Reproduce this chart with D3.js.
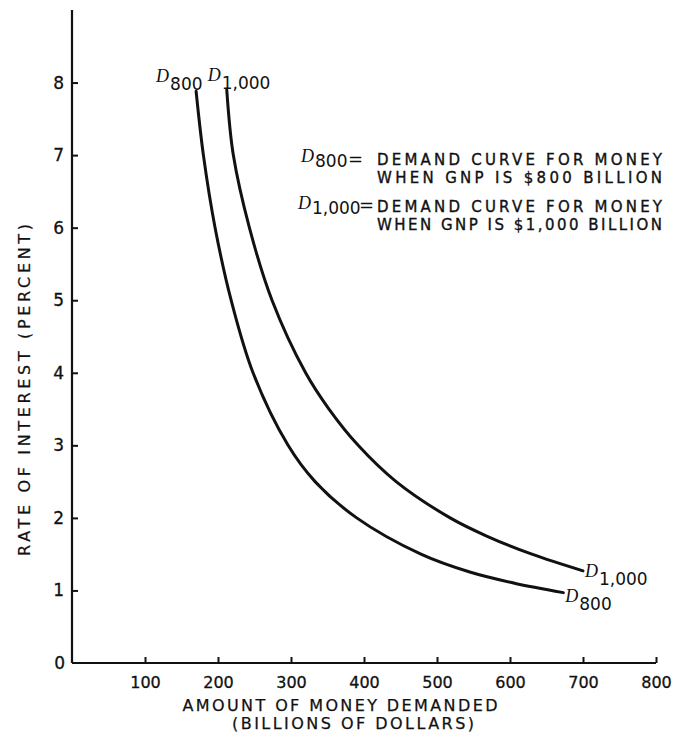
<!DOCTYPE html>
<html>
<head>
<meta charset="utf-8">
<script src="https://cdn.jsdelivr.net/npm/d3@7"></script>
<style>
  html, body { margin: 0; padding: 0; background: #fff; }
  svg { display: block; }
  text { font-family: "DejaVu Sans", "Liberation Sans", sans-serif; fill: #111; }
</style>
</head>
<body>
<svg id="chart" width="675" height="739"></svg>
<script>
// ---- data ----
const xTicks = [100, 200, 300, 400, 500, 600, 700, 800];
const yTicks = [1, 2, 3, 4, 5, 6, 7, 8];

// D800: demand curve for money when GNP is $800 billion
const moneyD800 = [170, 180, 196, 218, 248, 296, 333, 390, 478, 546, 606, 673];
const rateD800  = [7.88, 7.0, 6.0, 5.0, 4.0, 3.0, 2.5, 2.0, 1.5, 1.25, 1.1, 0.97];

// D1,000: demand curve for money when GNP is $1,000 billion
const moneyD1000 = [212, 221, 243, 274, 320, 352, 392, 444, 518, 568, 630, 700];
const rateD1000  = [7.90, 7.0, 6.0, 5.0, 4.0, 3.5, 3.0, 2.5, 2.0, 1.75, 1.5, 1.27];

const legendLines = [
  "DEMAND CURVE FOR MONEY",
  "WHEN GNP IS $800 BILLION",
  "DEMAND CURVE FOR MONEY",
  "WHEN GNP IS $1,000 BILLION"
];
const xTitle = ["AMOUNT OF MONEY DEMANDED", "(BILLIONS OF DOLLARS)"];
const yTitle = "RATE OF INTEREST (PERCENT)";

// ---- drawing ----
const svg = d3.select("#chart");
const x = d3.scaleLinear().domain([0, 800]).range([72, 656]);
const y = d3.scaleLinear().domain([0, 9]).range([663, 10]);
const INK = "#111";

// axes
const xAxis = d3.axisBottom(x).tickValues(xTicks).tickSize(-6).tickPadding(14).tickFormat(d3.format("d"));
const gx = svg.append("g").attr("transform", `translate(0,${y(0)})`).call(xAxis);
gx.select(".domain").attr("d", `M${x(0)},0H${x(800)}`).attr("stroke", INK).attr("stroke-width", 2.2);
gx.selectAll(".tick line").attr("stroke", INK).attr("stroke-width", 2);
gx.selectAll(".tick text").attr("font-size", 16).attr("font-family", "DejaVu Sans, sans-serif")
  .attr("fill", INK).attr("stroke", INK).attr("stroke-width", 0.3);

const yAxis = d3.axisLeft(y).tickValues(yTicks).tickSize(-6).tickPadding(8).tickFormat(d3.format("d"));
const gy = svg.append("g").attr("transform", `translate(${x(0)},0)`).call(yAxis);
gy.select(".domain").attr("d", `M0,${y(0)}V${y(9)}`).attr("stroke", INK).attr("stroke-width", 2.2);
gy.selectAll(".tick line").attr("stroke", INK).attr("stroke-width", 2);
gy.selectAll(".tick text").attr("font-size", 17).attr("font-family", "DejaVu Sans, sans-serif")
  .attr("fill", INK).attr("stroke", INK).attr("stroke-width", 0.3);

// origin label
svg.append("text").attr("x", x(0) - 7).attr("y", y(0) + 6)
  .attr("text-anchor", "end").attr("font-size", 17).attr("stroke", INK).attr("stroke-width", 0.3).text("0");

// curves
const line = d3.line().x(d => x(d[0])).y(d => y(d[1])).curve(d3.curveCatmullRom.alpha(0.5));
const d800 = moneyD800.map((m, i) => [m, rateD800[i]]);
const d1000 = moneyD1000.map((m, i) => [m, rateD1000[i]]);
[d800, d1000].forEach(data => {
  svg.append("path").datum(data).attr("d", line)
    .attr("fill", "none").attr("stroke", INK).attr("stroke-width", 3).attr("stroke-linecap", "round");
});

// curve labels: D + subscript
function dLabel(px, py, sub, subDy) {
  const t = svg.append("text").attr("x", px).attr("y", py).attr("font-size", 17);
  t.append("tspan").attr("font-style", "italic").attr("font-family", "Liberation Serif, serif").attr("font-size", 18).text("D");
  t.append("tspan").attr("dy", subDy).attr("dx", 1).text(sub);
  return t;
}
const top800 = d800[0], top1000 = d1000[0];
const end800 = d800[d800.length - 1], end1000 = d1000[d1000.length - 1];
dLabel(x(top800[0]) - 40, y(top800[1]) - 9, "800", 8);
dLabel(x(top1000[0]) - 19, y(top1000[1]) - 9, "1,000", 8);
dLabel(x(end1000[0]) + 2, y(end1000[1]) + 6, "1,000", 8);
dLabel(x(end800[0]) + 2, y(end800[1]) + 9, "800", 8);

// legend
const lg = svg.append("g");
const lgX = 377, lgW = 285;
const baselines = [165, 183, 212, 230];
legendLines.forEach((s, i) => {
  lg.append("text").attr("x", lgX).attr("y", baselines[i]).attr("font-size", 15)
    .attr("stroke", INK).attr("stroke-width", 0.35)
    .attr("textLength", lgW).attr("lengthAdjust", "spacing").text(s);
});
function legendKey(px, py, sub) {
  const t = lg.append("text").attr("x", px).attr("y", py).attr("font-size", 17);
  t.append("tspan").attr("font-style", "italic").attr("font-family", "Liberation Serif, serif").attr("font-size", 18).text("D");
  t.append("tspan").attr("dy", 5).attr("dx", 1).text(sub);
  return t;
}
legendKey(301, 162, "800");
lg.append("text").attr("x", 348).attr("y", 165).attr("font-size", 18).text("=");
legendKey(298, 209, "1,000");
lg.append("text").attr("x", 359).attr("y", 211).attr("font-size", 18).text("=");

// axis titles
svg.append("text").attr("x", 340).attr("y", 711).attr("text-anchor", "middle")
  .attr("font-size", 16).attr("stroke", INK).attr("stroke-width", 0.25)
  .attr("textLength", 315).attr("lengthAdjust", "spacing").text(xTitle[0]);
svg.append("text").attr("x", 353).attr("y", 729).attr("text-anchor", "middle")
  .attr("font-size", 16).attr("stroke", INK).attr("stroke-width", 0.25)
  .attr("textLength", 242).attr("lengthAdjust", "spacing").text(xTitle[1]);
svg.append("text").attr("transform", "translate(30,390) rotate(-90)").attr("text-anchor", "middle")
  .attr("font-size", 16).attr("stroke", INK).attr("stroke-width", 0.2)
  .attr("textLength", 332).attr("lengthAdjust", "spacing").text(yTitle);
</script>
</body>
</html>
